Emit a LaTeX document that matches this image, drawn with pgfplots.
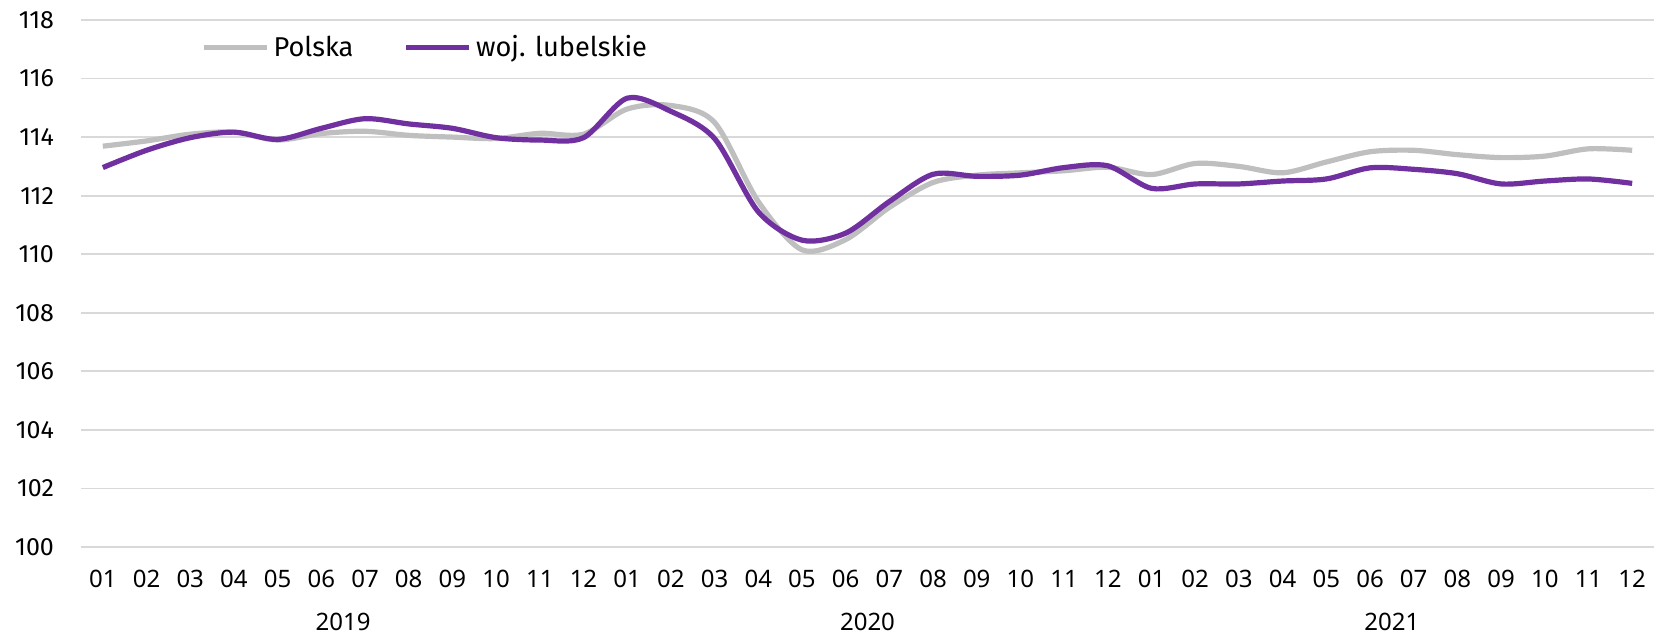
\documentclass[border=0pt]{standalone}
\usepackage{fontspec}
\setmainfont{Fira Sans}
\newfontfamily\notosans{Noto Sans}
\usepackage{pgfplots}
\pgfplotsset{compat=1.18}
\definecolor{gridc}{HTML}{D9D9D9}
\definecolor{polska}{HTML}{BFBFBF}
\definecolor{lub}{HTML}{7030A0}
\pgfplotstableread{
x pl lu
0 113.69 112.96
1 113.87 113.55
2 114.10 113.98
3 114.17 114.17
4 113.90 113.92
5 114.12 114.30
6 114.20 114.63
7 114.06 114.45
8 114.00 114.30
9 113.95 113.98
10 114.13 113.90
11 114.10 113.98
12 114.96 115.33
13 115.08 114.88
14 114.50 113.95
15 111.80 111.45
16 110.15 110.48
17 110.50 110.72
18 111.60 111.80
19 112.45 112.73
20 112.70 112.66
21 112.78 112.70
22 112.85 112.96
23 112.97 113.02
24 112.72 112.25
25 113.10 112.40
26 113.00 112.40
27 112.78 112.50
28 113.15 112.57
29 113.50 112.95
30 113.55 112.90
31 113.40 112.75
32 113.30 112.40
33 113.35 112.50
34 113.60 112.57
35 113.55 112.42
}\data
\begin{document}
\begin{tikzpicture}
\begin{axis}[
  scale only axis,
  width=786.5pt, height=263.5pt,
  xmin=-0.5, xmax=35.5,
  ymin=100, ymax=118,
  ytick={100,102,...,118},
  xtick={0,...,35},
  xticklabels={01,02,03,04,05,06,07,08,09,10,11,12,01,02,03,04,05,06,07,08,09,10,11,12,01,02,03,04,05,06,07,08,09,10,11,12},
  axis line style={draw=none},
  major tick length=0pt,
  ymajorgrids,
  grid style={gridc, line width=0.9pt},
  yticklabel style={font=\fontsize{12.5}{14}\selectfont, xshift=-10pt},
  xticklabel style={font=\notosans\fontsize{12}{14}\selectfont, anchor=base, yshift=-20.2pt},
  /pgf/number format/assume math mode=true,
  legend columns=2,
  legend style={draw=none, fill=none, at={(rel axis cs:0.076,0.948)}, anchor=west,
    font=\fontsize{13.6}{15}\selectfont, inner sep=0pt, column sep=0pt,
    /tikz/every even column/.append style={column sep=23pt}},
  legend image code/.code={\draw[#1, line width=2.8pt] (0pt,0pt) -- (31.5pt,0pt);},
  clip=false,
]
\addplot[polska, line width=2.6pt, smooth, tension=0.5] table[x=x, y=pl] {\data};
\addlegendentry{Polska}
\addplot[lub, line width=2.6pt, smooth, tension=0.5] table[x=x, y=lu] {\data};
\addlegendentry{woj. lubelskie}
\coordinate (sw) at (rel axis cs:0,0);
\coordinate (ne) at (rel axis cs:1,1);
\node[font=\notosans\fontsize{12}{14}\selectfont, anchor=base] at ([yshift=-41.8pt]axis cs:5.5,100) {2019};
\node[font=\notosans\fontsize{12}{14}\selectfont, anchor=base] at ([yshift=-41.8pt]axis cs:17.5,100) {2020};
\node[font=\notosans\fontsize{12}{14}\selectfont, anchor=base] at ([yshift=-41.8pt]axis cs:29.5,100) {2021};
\end{axis}
\pgfresetboundingbox
\path[use as bounding box] ([shift={(-40.5pt,-44.5pt)}]sw) rectangle ([shift={(0.5pt,10pt)}]ne);
\end{tikzpicture}
\end{document}
